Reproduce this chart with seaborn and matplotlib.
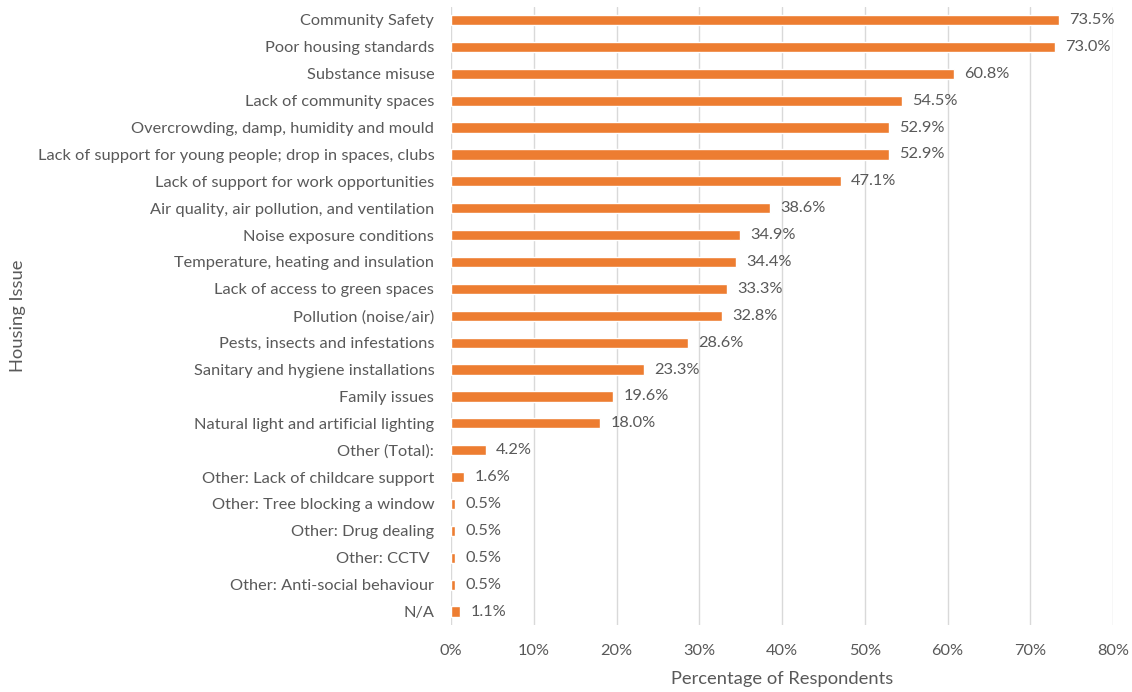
import matplotlib
matplotlib.use("Agg")
import matplotlib.pyplot as plt
import seaborn as sns
import pandas as pd

categories = [
    "Community Safety", "Poor housing standards", "Substance misuse",
    "Lack of community spaces", "Overcrowding, damp, humidity and mould",
    "Lack of support for young people; drop in spaces, clubs",
    "Lack of support for work opportunities",
    "Air quality, air pollution, and ventilation", "Noise exposure conditions",
    "Temperature, heating and insulation", "Lack of access to green spaces",
    "Pollution (noise/air)", "Pests, insects and infestations",
    "Sanitary and hygiene installations", "Family issues",
    "Natural light and artificial lighting", "Other (Total):",
    "Other: Lack of childcare support", "Other: Tree blocking a window",
    "Other: Drug dealing", "Other: CCTV ", "Other: Anti-social behaviour", "N/A",
]
values = [73.5, 73.0, 60.8, 54.5, 52.9, 52.9, 47.1, 38.6, 34.9, 34.4, 33.3,
          32.8, 28.6, 23.3, 19.6, 18.0, 4.2, 1.6, 0.5, 0.5, 0.5, 0.5, 1.1]
x_ticks = [0, 10, 20, 30, 40, 50, 60, 70, 80]

sns.set_theme(style="white")
plt.rcParams["font.family"] = ["Lato", "DejaVu Sans"]
text_color = "#595959"
bar_color = "#ED7D31"

df = pd.DataFrame({"Issue": categories, "Value": values})

fig = plt.figure(figsize=(11.32, 6.92), dpi=100)
ax = fig.add_axes([451/1132, 1 - 625/692, (1113-451)/1132, (625-6.5)/692])

sns.barplot(data=df, x="Value", y="Issue", orient="h", color=bar_color,
            width=0.38, saturation=1, ax=ax, zorder=3)

ax.set_xlim(0, 80)
ax.set_ylim(22.5, -0.5)
ax.set_xticks(x_ticks)
ax.set_xticklabels([f"{t}%" for t in x_ticks])
ax.grid(axis="x", color="#D9D9D9", linewidth=1, zorder=0)
ax.grid(axis="y", visible=False)
for s in ax.spines.values():
    s.set_visible(False)
ax.tick_params(axis="both", length=0, labelsize=11.8, colors=text_color)
ax.tick_params(axis="x", pad=14)
ax.tick_params(axis="y", pad=12)

for i, v in enumerate(values):
    ax.text(v + 1.25, i, f"{v:.1f}%", va="center", ha="left",
            fontsize=11.8, color=text_color)

ax.set_xlabel("Percentage of Respondents", fontsize=13.2, color=text_color, labelpad=9)
ax.set_ylabel("")
fig.text(18/1132, 1 - 316/692, "Housing Issue", rotation=90, ha="center",
         va="center", fontsize=13.2, color=text_color)

fig.savefig("out.png", dpi=100)
